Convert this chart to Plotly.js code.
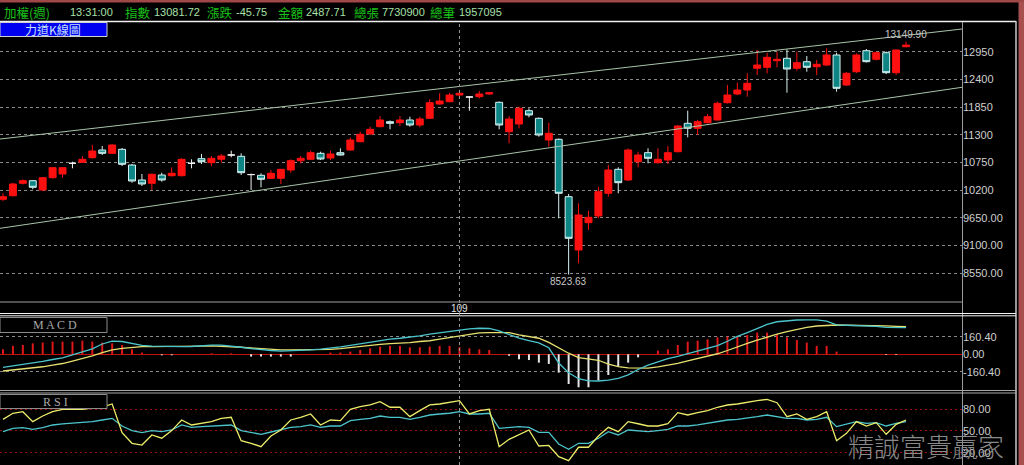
<!DOCTYPE html>
<html><head><meta charset="utf-8">
<script src="https://cdn.plot.ly/plotly-3.0.1.min.js"></script>
<style>html,body{margin:0;padding:0;background:#000;overflow:hidden}#chart{width:1024px;height:465px}</style>
</head><body><div id="chart"></div>
<script>
// ---------- DATA (weekly TAIEX) ----------
const open = [10018.9,10090.4,10336.7,10388.3,10203.6,10447.9,10521.4,10733.9,10753.7,10845.1,
10998,10932.5,11011.9,10700.1,10402.2,10336.7,10501.5,10487.6,10487.6,10733.9,
10825.2,10745.8,10813.3,10898.7,10872.9,10510,10495.5,10436,10436,10600.8,
10785.5,10813.3,10932.5,10839.1,10944.4,10998,11162.8,11315.8,11460.7,11560,
11540.2,11593.8,11494.5,11627.6,11911.6,11957.2,12090.3,12050.6,12056.5,12110.2,
11945.3,11361.4,11514.4,11778.5,11627.6,11196.6,11210.5,10070.5,9012,9554.2,
9687.2,10138.1,10614.7,10402.2,10765.6,10944.4,10745.8,10799.4,10964.2,11528.3,
11429,11540.2,11593.8,11937.4,12110.2,12189.6,12620.6,12640.4,12771.5,12819.2,
12620.6,12751.6,12652.3,12686.1,12884.7,12288.9,12553,12970.1,12799.3,12930.4,
12533.2,13049.5];
const high = [10138.1,10348.6,10416.1,10402.2,10461.8,10660.4,10660.4,10765.6,10878.8,11097.3,
11077.4,11117.2,11037.7,10720,10521.4,10531.3,10547.2,10654.5,10833.2,10813.3,
10918.6,10878.8,10918.6,10984.1,10932.5,10531.3,10535.3,10600.8,10620.7,10813.3,
10878.8,10984.1,10964.2,10984.1,11031.8,11242.3,11361.4,11460.7,11673.2,11583.9,
11673.2,11659.3,11659.3,12004.9,12124,12130,12189.6,12060.5,12169.7,12149.9,
11961.2,11673.2,11857.9,11826.2,11643.5,11540.2,11226.4,10124.2,9939.5,9792.5,
10269.1,10700.1,10654.5,11027.8,10964.2,11031.8,11031.8,11077.4,11494.5,11778.5,
11593.8,11713,11957.2,12288.9,12334.6,12521.3,12984,12930.4,12950.2,12997.9,
12950.2,12864.8,12785.4,13017.8,12930.4,12547.1,12914.5,13003.9,12954.2,12954.2,
12997.9,13149.9];
const low = [9985.1,10074.5,10312.8,10217.5,10183.7,10432,10447.9,10634.6,10739.8,10829.2,
10898.7,10918.6,10680.2,10348.6,10283,10203.6,10368.5,10471.7,10471.7,10634.6,
10720,10680.2,10745.8,10853,10501.5,10203.6,10257.2,10422.1,10322.8,10547.2,
10733.9,10799.4,10799.4,10799.4,10888.8,10988.1,11150.9,11301.9,11448.8,11409.1,
11474.6,11460.7,11448.8,11613.7,11897.7,11945.3,12044.6,11778.5,12024.8,12096.3,
11409.1,11131.1,11429,11647.4,11262.1,11063.5,9641.6,8523.63,8747.9,9409.2,
9641.6,10070.5,10138.1,10382.3,10654.5,10733.9,10729.9,10720,10948.4,11250.2,
11296,11524.3,11583.9,11921.5,12090.3,12056.5,12487.5,12521.3,12640.4,12136,
12572.9,12553,12487.5,12666.2,12155.8,12269,12527.2,12735.8,12775.5,12507.4,
12487.5,13037.6];
const close = [10070.5,10322.8,10388.3,10257.2,10447.9,10646.5,10646.5,10733.9,10813.3,10978.1,
10932.5,11097.3,10714,10382.3,10322.8,10515.4,10402.2,10535.3,10813.3,10733.9,
10765.6,10833.2,10878.8,10898.7,10547.2,10510,10416.1,10535.3,10614.7,10785.5,
10833.2,10944.4,10819.3,10918.6,10898.7,11196.6,11309.8,11409.1,11593.8,11528.3,
11593.8,11494.5,11613.7,11937.4,11971.1,12090.3,12124,12050.6,12110.2,12136,
11494.5,11613.7,11826.2,11693.1,11296,11329.7,10138.1,9244.4,9707.1,9661.4,
10169.8,10600.8,10348.6,10998,10898.7,10833.2,10813.3,10944.4,11474.6,11429,
11560,11659.3,11925.4,12090.3,12189.6,12322.7,12686.1,12839,12799.3,12606.7,
12731.8,12640.4,12700,12884.7,12223.4,12521.3,12884.7,12751.6,12930.4,12533.2,
12984,13081.72];

const difLine = [-120,-108,-95,-83,-66,-48,-33,-5,22,50,95,122,118,100,82,75,72,70,70,72,
78,85,84,77,65,52,42,35,30,32,34,40,47,55,68,82,98,112,126,140,
148,158,170,185,198,212,226,234,240,238,215,182,150,125,105,60,-80,-170,-225,-245,
-246,-238,-222,-190,-140,-100,-70,-40,-20,5,30,50,80,120,165,200,240,275,300,310,
316,318,318,305,272,268,265,263,258,248,245,245];
const macdLine = [-154,-146,-137,-129,-115,-100,-85,-62,-40,-15,15,40,55,65,70,70,70,70,70,72,
75,77,75,70,65,58,52,45,40,40,40,42,44,46,52,62,75,85,92,98,
101,108,118,125,140,155,169,185,198,200,200,199,180,165,148,110,60,10,-30,-45,
-55,-90,-114,-125,-129,-128,-115,-100,-83,-60,-40,-22,5,35,70,100,130,160,187,210,
230,248,261,268,270,268,267,267,267,262,257,254];
const oscBar = [46,77,86,101,108,117,117,117,126,117,108,101,86,46,16,0,-9,-9,0,0,
0,9,0,9,0,-21,-21,-21,-21,-21,0,0,0,16,16,25,40,55,71,77,
77,65,65,71,77,77,65,55,46,40,0,-14,-46,-53,-77,-89,-169,-274,-304,-304,
-242,-191,-113,-77,-28,0,34,46,86,117,126,138,157,163,163,178,200,200,187,157,
132,108,77,77,25,0,0,0,0,-6,-6,0];
const rsiFast = [66.0,74.5,76.7,62.9,70.7,76.7,80,80,80,81.5,83,87.3,47.7,33,30.6,44.5,40,50.5,65.2,58.3,
60.6,62.9,67.5,68.9,36.6,33,28.3,43,51.4,65.2,68.9,73.5,58.3,65.2,64.3,80,83.7,86,90.5,82.8,
82.8,69.8,78.1,86,87.3,89.1,91.9,73.5,78.1,80,28.3,38.5,45,51.4,29.3,30,14.5,9,27.5,27.5,
43,55.1,49,62.9,60,56.9,56.9,60,75.3,72.1,75.3,78.1,82.8,85.9,87.3,89.1,91.9,93.8,89.1,69.8,
73.5,66.1,69.8,76.7,36.6,46.8,62.9,56.9,61.5,45.4,59.2,65.2];
const rsiSlow = [49,53.7,54.6,52.3,54.6,58.3,59.7,60.6,61.5,62.9,65.2,67.5,56.9,50.5,47.7,50.5,49,51.4,58.3,55.1,
56,56.9,58.3,58.3,50.5,47.7,45.4,48.6,51.4,55.1,56,58.3,55.1,56.9,56.9,64.3,66.1,67.5,70.7,68.9,
68.9,66.1,68.9,72.1,73.5,74.5,76.7,73.5,73.5,74.5,53.7,55.1,56,55.1,48.2,48.2,32,24.7,33,33,
40,49,44.5,51.4,50.5,49,50.5,52.3,56.9,56.9,58.3,60.6,62.9,65.2,66.1,67.5,69.8,72.1,69.8,67.5,
67.5,65.2,66.1,68.9,56,59.7,62.9,60.6,61.5,56.9,60.6,62.9];

// hand-drawn channel lines (x in week index, y in index points)
const trendX = [-0.3, 96.64];
const upperTrend = [11216, 13401];
const lowerTrend = [9443, 12243];

const priceTicks = [12950,12400,11850,11300,10750,10200,9650,9100,8550];
const priceTickText = ['12950','12400','11850','11300','10750','10200','9650.00','9100.00','8550.00'];
const macdTicks = [160.4, 0, -160.4];
const macdTickText = ['160.40','0.00','-160.40'];
const rsiTicks = [80, 50, 20];
const rsiTickText = ['80.00','50.00','20.00'];
const yearMarkIndex = 46, yearMarkText = '109';
const highMarkText = '13149.90', lowMarkText = '8523.63';

const headerLabels = ['加權(週)','13:31:00','指數','13081.72','漲跌','-45.75','金額','2487.71','總張','7730900','總筆','1957095'];

// ---------- BUILD ----------
const W = 1024, H = 465;
const PX = x => x / W, PY = y => 1 - y / H;
const idx = open.map((_, i) => i);

function pick(cond) {
  const o = {x: [], open: [], high: [], low: [], close: []};
  idx.forEach(i => { if (cond(i)) { o.x.push(i); o.open.push(open[i]); o.high.push(high[i]); o.low.push(low[i]); o.close.push(close[i]); } });
  return o;
}
const upC = pick(i => close[i] > open[i]);
const dnC = pick(i => close[i] < open[i]);
const djC = pick(i => close[i] === open[i]);

const RED = '#ff1010', TEAL = '#0e8585', TEALLINE = '#d8f4f4';
function candle(d, fill, line) {
  return Object.assign({type: 'candlestick', xaxis: 'x', yaxis: 'y', whiskerwidth: 0, hoverinfo: 'skip',
    increasing: {fillcolor: fill, line: {color: line, width: 1}},
    decreasing: {fillcolor: fill, line: {color: line, width: 1}}, showlegend: false}, d);
}

const traces = [
  {type: 'scatter', mode: 'lines', x: trendX, y: upperTrend, line: {color: '#a8c4a8', width: 1}, xaxis: 'x', yaxis: 'y', hoverinfo: 'skip'},
  {type: 'scatter', mode: 'lines', x: trendX, y: lowerTrend, line: {color: '#a8c4a8', width: 1}, xaxis: 'x', yaxis: 'y', hoverinfo: 'skip'},
  candle(upC, RED, RED),
  candle(dnC, TEAL, TEALLINE),
  candle(djC, '#ffffff', '#f0f0f0'),
  {type: 'bar', x: idx, y: oscBar, width: 0.2, xaxis: 'x', yaxis: 'y2', hoverinfo: 'skip',
   marker: {color: oscBar.map(v => v >= 0 ? '#e01818' : '#e8e8e8'), line: {width: 0}}},
  {type: 'scatter', mode: 'lines', x: idx, y: macdLine, line: {color: '#e6e070', width: 1.3}, xaxis: 'x', yaxis: 'y2', hoverinfo: 'skip'},
  {type: 'scatter', mode: 'lines', x: idx, y: difLine, line: {color: '#4cc4cc', width: 1.3}, xaxis: 'x', yaxis: 'y2', hoverinfo: 'skip'},
  {type: 'scatter', mode: 'lines', x: idx, y: rsiSlow, line: {color: '#4cc4cc', width: 1.3}, xaxis: 'x', yaxis: 'y3', hoverinfo: 'skip'},
  {type: 'scatter', mode: 'lines', x: idx, y: rsiFast, line: {color: '#ecec6a', width: 1.3}, xaxis: 'x', yaxis: 'y3', hoverinfo: 'skip'}
];

const tickFont = {family: 'Liberation Sans, Arial, sans-serif', size: 11, color: '#cfcfcf'};
const plotRight = 962;
const layout = {
  width: W, height: H, margin: {l: 0, r: 0, t: 0, b: 0},
  paper_bgcolor: '#000', plot_bgcolor: '#000', showlegend: false, hovermode: false,
  boxgap: 0.3, boxgroupgap: 0,
  xaxis: {domain: [0, PX(plotRight)], range: [-0.302, 96.64], visible: false, rangeslider: {visible: false}, fixedrange: true},
  yaxis: {domain: [PY(302), PY(22)], range: [7979.3, 13540.1], side: 'right', anchor: 'x',
    tickvals: priceTicks, ticktext: priceTickText, tickfont: tickFont, ticks: '',
    gridcolor: '#8a8a8a', griddash: '3px,3px', gridwidth: 1, zeroline: false, showline: false},
  yaxis2: {domain: [PY(390), PY(316)], range: [-329.2, 353.1], side: 'right', anchor: 'x',
    tickvals: macdTicks, ticktext: macdTickText, tickfont: tickFont, ticks: '',
    gridcolor: '#8a8a8a', griddash: '3px,3px', zeroline: true, zerolinecolor: '#c01010', zerolinewidth: 1, showline: false},
  yaxis3: {domain: [0, PY(393)], range: [3, 102.5], side: 'right', anchor: 'x',
    tickvals: rsiTicks, ticktext: rsiTickText, tickfont: tickFont, ticks: '',
    gridcolor: '#9a1010', griddash: '2px,3px', zeroline: false, showline: false},
  shapes: [
    {type: 'rect', xref: 'paper', yref: 'paper', x0: 0, x1: 1, y0: PY(2.5), y1: 1, fillcolor: '#a04848', line: {width: 0}},
    {type: 'rect', xref: 'paper', yref: 'paper', x0: PX(1018.5), x1: 1, y0: 0, y1: PY(2), fillcolor: '#a85050', line: {width: 0}},
    {type: 'line', xref: 'paper', yref: 'paper', x0: 0, x1: PX(1016), y0: PY(21.5), y1: PY(21.5), line: {color: '#f0f0f0', width: 1.5}},
    {type: 'line', xref: 'paper', yref: 'paper', x0: PX(1016), x1: PX(1016), y0: PY(21), y1: 0, line: {color: '#c8c8c8', width: 1.5}},
    {type: 'line', xref: 'paper', yref: 'paper', x0: PX(plotRight + 0.5), x1: PX(plotRight + 0.5), y0: PY(22), y1: 0, line: {color: '#9a9a9a', width: 1}},
    {type: 'line', xref: 'paper', yref: 'paper', x0: 0, x1: PX(plotRight), y0: PY(302), y1: PY(302), line: {color: '#a0a0a0', width: 1}},
    {type: 'line', xref: 'paper', yref: 'paper', x0: 0, x1: PX(1016), y0: PY(313.5), y1: PY(313.5), line: {color: '#f4f4f4', width: 1}},
    {type: 'line', xref: 'paper', yref: 'paper', x0: 0, x1: PX(1016), y0: PY(315.8), y1: PY(315.8), line: {color: '#f4f4f4', width: 1}},
    {type: 'line', xref: 'paper', yref: 'paper', x0: 0, x1: PX(1016), y0: PY(390.5), y1: PY(390.5), line: {color: '#a8a8a8', width: 1}},
    {type: 'line', xref: 'paper', yref: 'paper', x0: 0, x1: PX(1016), y0: PY(393), y1: PY(393), line: {color: '#a8a8a8', width: 1}},
    {type: 'line', xref: 'x', yref: 'paper', x0: yearMarkIndex, x1: yearMarkIndex, y0: 0, y1: PY(22), line: {color: '#9a9a9a', width: 1, dash: '3px,3px'}},
    {type: 'rect', xref: 'paper', yref: 'paper', x0: 0, x1: PX(107), y0: PY(36.5), y1: PY(22.5), fillcolor: '#0000f0', line: {color: '#d0d0d0', width: 1}},
    {type: 'rect', xref: 'paper', yref: 'paper', x0: 0, x1: PX(107), y0: PY(332.5), y1: PY(317.5), fillcolor: '#000', line: {color: '#8c8c8c', width: 1}},
    {type: 'rect', xref: 'paper', yref: 'paper', x0: 0, x1: PX(107), y0: PY(408.5), y1: PY(394.5), fillcolor: '#000', line: {color: '#8c8c8c', width: 1}}
  ],
  annotations: []
};

const headX = [2, 68, 123, 152, 205, 234, 276, 304, 352, 380, 428, 457];
headerLabels.forEach((t, k) => {
  const isNum = /[0-9:\-.]/.test(t[0]);
  layout.annotations.push({xref: 'paper', yref: 'paper', x: PX(headX[k]), y: PY(12.5), xanchor: 'left', yanchor: 'middle',
    text: t, showarrow: false,
    font: {family: isNum ? 'Liberation Sans, Arial' : 'Noto Sans CJK TC', size: isNum ? 11 : 12.5,
           color: (k % 2 === 0) ? '#18c018' : '#a8e0a8'}});
});
layout.annotations.push(
  {xref: 'paper', yref: 'paper', x: PX(53), y: PY(29.5), text: '力道K線圖', showarrow: false, xanchor: 'center', yanchor: 'middle',
   font: {family: 'Noto Sans CJK TC', size: 12, color: '#c8e0ff'}},
  {xref: 'paper', yref: 'paper', x: PX(55), y: PY(325), text: 'M A C D', showarrow: false, xanchor: 'center', yanchor: 'middle',
   font: {family: 'Liberation Serif, serif', size: 12, color: '#a8a8a8'}},
  {xref: 'paper', yref: 'paper', x: PX(55), y: PY(401.5), text: 'R S I', showarrow: false, xanchor: 'center', yanchor: 'middle',
   font: {family: 'Liberation Serif, serif', size: 12, color: '#a8a8a8'}},
  {xref: 'x', yref: 'paper', x: yearMarkIndex, y: PY(308.5), text: yearMarkText, showarrow: false, xanchor: 'center', yanchor: 'middle',
   font: {family: 'Liberation Sans, Arial', size: 10, color: '#e0e0e0'}},
  {xref: 'x', yref: 'y', x: 91, y: 13149.9, yshift: 7, text: highMarkText, showarrow: false, xanchor: 'center', yanchor: 'middle',
   font: {family: 'Liberation Sans, Arial', size: 10, color: '#c8c8c8'}},
  {xref: 'x', yref: 'y', x: 57, y: 8523.63, yshift: -6.5, text: lowMarkText, showarrow: false, xanchor: 'center', yanchor: 'middle',
   font: {family: 'Liberation Sans, Arial', size: 10, color: '#c8c8c8'}},
  {xref: 'paper', yref: 'paper', x: PX(846), y: PY(445), text: '精誠富貴贏家', showarrow: false, xanchor: 'left', yanchor: 'middle',
   font: {family: 'Noto Sans CJK TC', size: 26, color: '#8a8a8a', weight: 300}}
);

Plotly.newPlot('chart', traces, layout, {staticPlot: true, displayModeBar: false});
</script></body></html>
